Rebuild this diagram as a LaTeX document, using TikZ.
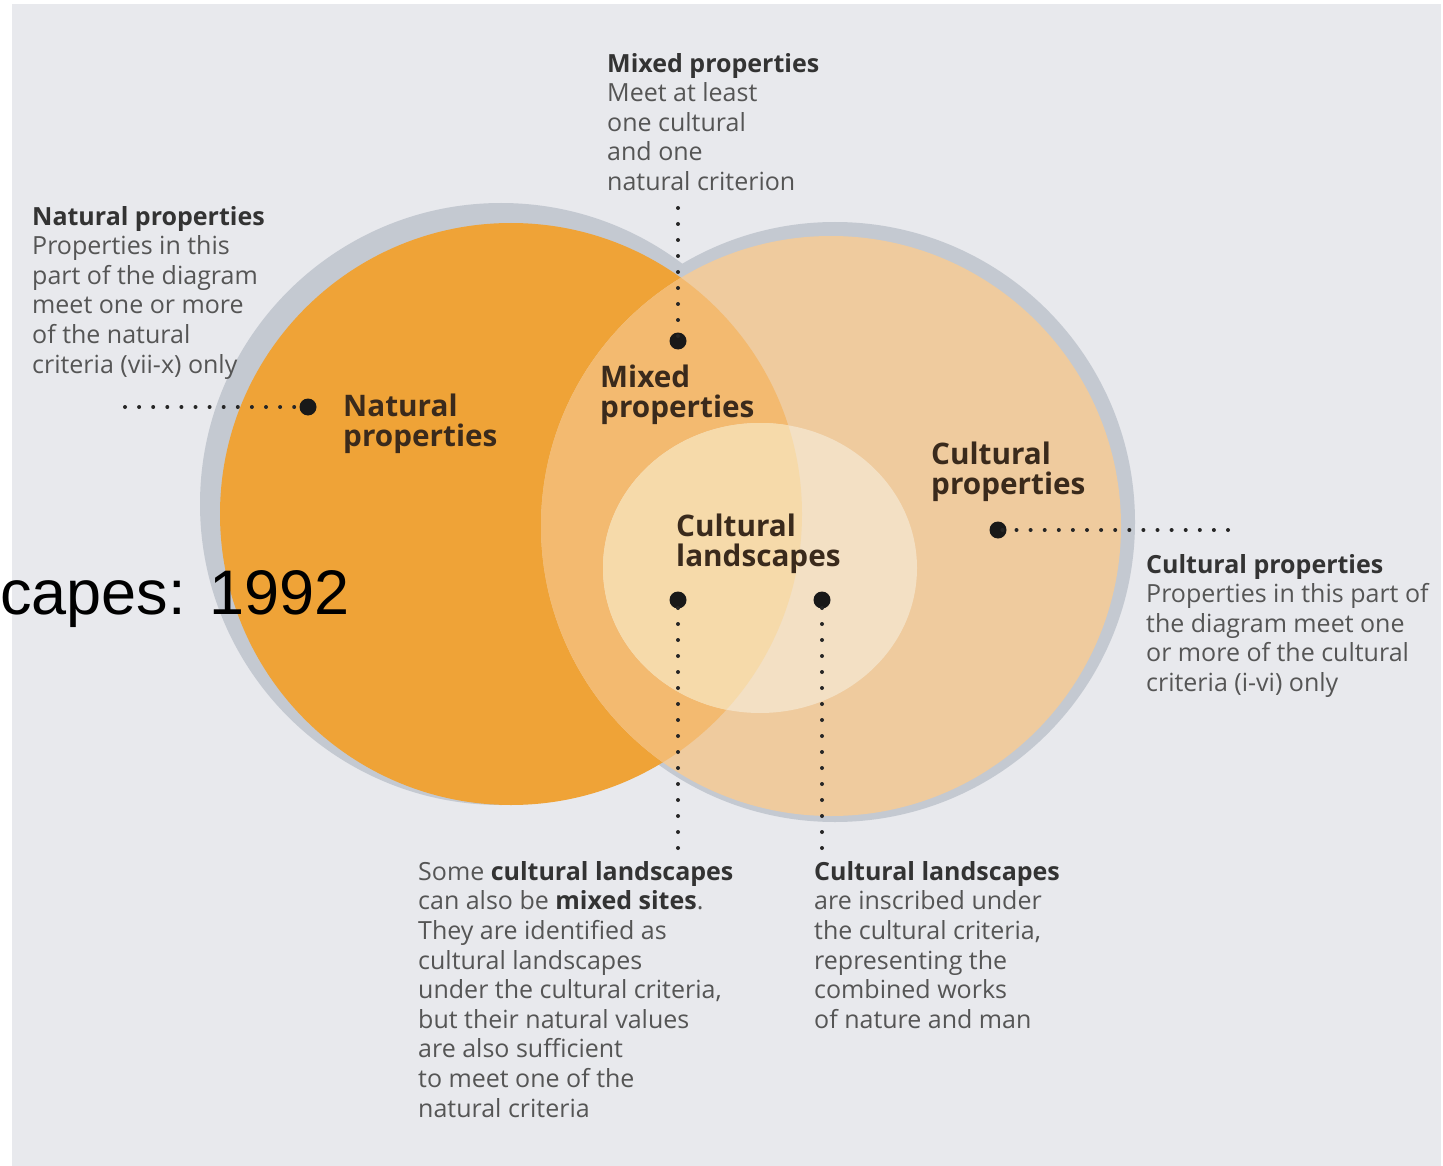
\documentclass[tikz,border=0pt]{standalone}
\usepackage{fontspec}
\setmainfont{Open Sans}
\newfontfamily\arialf{Liberation Sans}
\definecolor{bg}{HTML}{E8E9ED}
\definecolor{rim}{HTML}{C4C9D1}
\definecolor{natc}{HTML}{EFA337}
\definecolor{culc}{HTML}{EFCB9E}
\definecolor{mixc}{HTML}{F3BA70}
\definecolor{landa}{HTML}{F6DAAA}
\definecolor{landb}{HTML}{F3E0C4}
\definecolor{headc}{HTML}{333333}
\definecolor{bodyc}{HTML}{555555}
\definecolor{labc}{HTML}{3A2A1C}
\tikzset{
  blk/.style={font=\fontsize{25}{29.6}\selectfont, text=bodyc, align=left, inner sep=0pt, anchor=north west},
  lab/.style={font=\fontsize{29.7}{30}\selectfont\bfseries, text=labc, align=left, inner sep=0pt, anchor=north west},
  hdot/.style={draw=black!85, line width=4pt, line cap=round, dash pattern=on 0pt off 14.1pt},
  vdot/.style={draw=black!85, line width=4pt, line cap=round, dash pattern=on 0pt off 16pt},
  bigdot/.style={circle, fill=black!90, minimum size=17pt, inner sep=0pt}
}
\newcommand{\hb}[1]{{\bfseries\color{headc}#1}}
\begin{document}
\begin{tikzpicture}[x=1pt,y=-1pt]
\useasboundingbox (0,0) rectangle (1443,1166);
\fill[white] (0,0) rectangle (1443,1166);
\fill[bg] (12,4) rectangle (1441,1166);
% rims
\fill[rim] (501,504) circle [radius=301pt];
\fill[rim] (835,522) circle [radius=300pt];
% main discs
\fill[natc] (511,514) circle [radius=291pt];
\fill[culc] (831,526) circle [radius=290pt];
% intersection
\begin{scope}
  \clip (511,514) circle [radius=291pt];
  \fill[mixc] (831,526) circle [radius=290pt];
\end{scope}
% inner circle
\fill[landb] (760,568) ellipse [x radius=157pt, y radius=145pt];
\begin{scope}
  \clip (511,514) circle [radius=291pt];
  \fill[landa] (760,568) ellipse [x radius=157pt, y radius=145pt];
\end{scope}
% inside labels
\node[lab] (natlab) at (343,394) {Natural\\properties};
\node[lab] (mixlab) at (600,365) {Mixed\\properties};
\node[lab] (cullab) at (931,442) {Cultural\\properties};
\node[lab] (landlab) at (676,514) {Cultural\\landscapes};
% explanatory texts
\node[blk] (nattxt) at (32,206) {\hb{Natural properties}\\Properties in this\\part of the diagram\\meet one or more\\of the natural\\criteria (vii-x) only};
\node[blk] (mixtxt) at (607,53) {\hb{Mixed properties}\\Meet at least\\one cultural\\and one\\natural criterion};
\node[blk] (cultxt) at (1146,554) {\hb{Cultural properties}\\Properties in this part of\\the diagram meet one\\or more of the cultural\\criteria (i-vi) only};
\node[blk] (mixland) at (418,861) {Some \hb{cultural landscapes}\\can also be \hb{mixed sites}.\\They are identified as\\cultural landscapes\\under the cultural criteria,\\but their natural values\\are also sufficient\\to meet one of the\\natural criteria};
\node[blk] (landtxt) at (814,861) {\hb{Cultural landscapes}\\are inscribed under\\the cultural criteria,\\representing the\\combined works\\of nature and man};
% dots and dotted connectors
\node[bigdot] (natdot) at (308,407) {};
\coordinate (natend) at (125,407);
\draw[hdot] (natend) -- (natdot.center);
\node[bigdot] (mixdot) at (678,341) {};
\coordinate (mixend) at (678,208);
\draw[vdot] (mixend) -- (mixdot.center);
\node[bigdot] (culdot) at (998,530) {};
\coordinate (culend) at (1228,530);
\draw[hdot] (culend) -- (culdot.center);
\node[bigdot] (landdotA) at (678,600) {};
\coordinate (landendA) at (678,848);
\draw[vdot] (landendA) -- (landdotA.center);
\node[bigdot] (landdotB) at (822,600) {};
\coordinate (landendB) at (822,848);
\draw[vdot] (landendB) -- (landdotB.center);
% overlaid caption fragment
\node[anchor=base west, inner sep=0pt, font=\arialf\fontsize{63}{63}\selectfont] (capes) at (0,614) {capes: 1992};
\end{tikzpicture}
\end{document}
